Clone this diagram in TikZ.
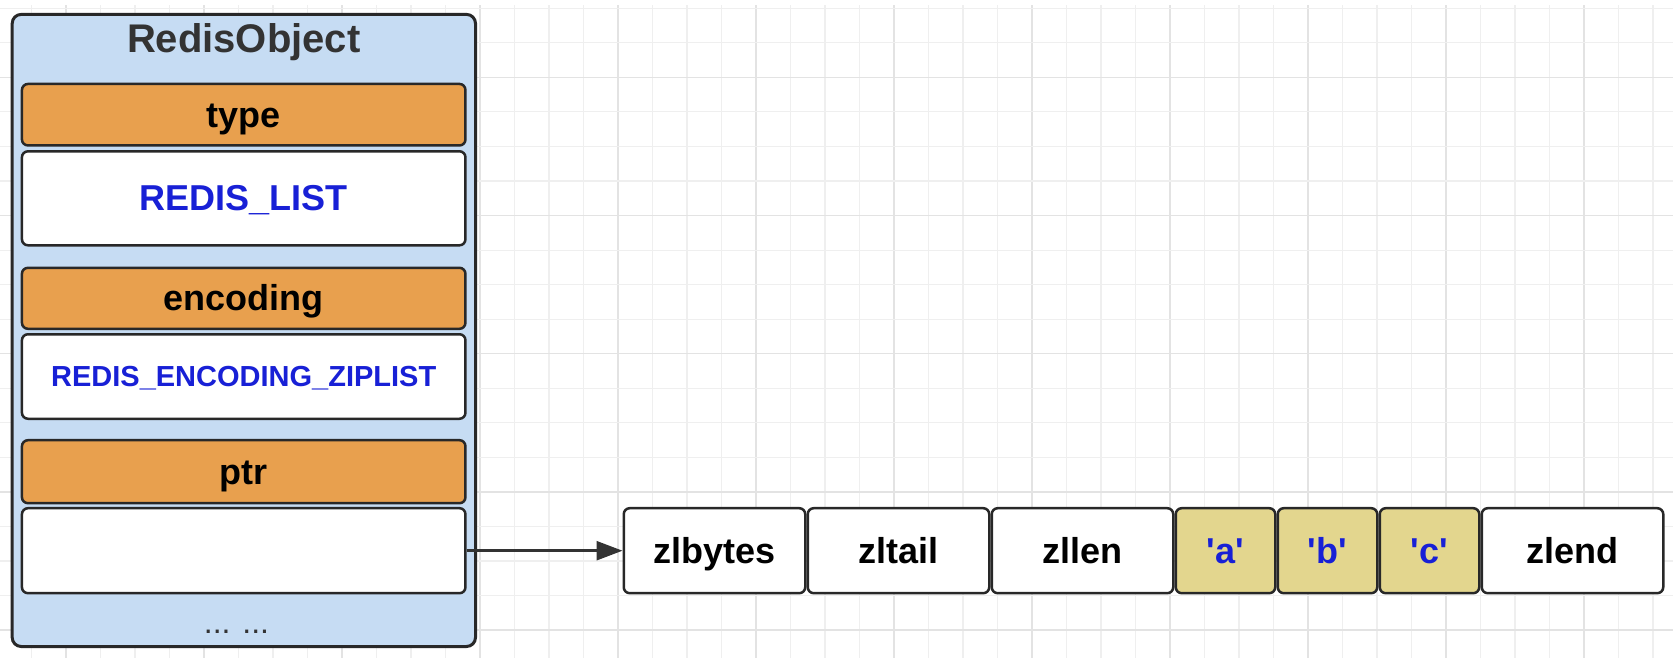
\documentclass[tikz,border=0pt]{standalone}
\usepackage{fontspec}
\setmainfont{Liberation Sans}[Ligatures=TeXOff]
\usepackage{xcolor}
\usetikzlibrary{positioning,arrows.meta}

\definecolor{objblue}{RGB}{198,220,243}
\definecolor{fieldorange}{RGB}{232,160,78}
\definecolor{itemyellow}{RGB}{227,214,142}
\definecolor{valblue}{RGB}{24,32,214}
\definecolor{edgegray}{RGB}{40,40,40}
\definecolor{titlegray}{RGB}{51,51,51}
\definecolor{gridminor}{RGB}{239,239,239}
\definecolor{gridmajor}{RGB}{227,227,227}

\tikzset{
  objbox/.style={draw=edgegray, line width=3pt, rounded corners=9pt, fill=objblue,
    minimum width=463.3pt, minimum height=632.1pt, inner sep=0pt},
  field/.style={draw=edgegray, line width=2.5pt, rounded corners=6pt, fill=fieldorange,
    minimum width=443.5pt, inner sep=0pt, text height=32.6pt, text depth=7.6pt,
    font=\fontsize{36}{40}\selectfont\bfseries},
  value/.style={field, fill=white, text=valblue},
  cell/.style={draw=edgegray, line width=2.5pt, rounded corners=6pt, fill=white,
    minimum height=85pt, inner sep=0pt, text height=32.6pt, text depth=7.6pt,
    font=\fontsize{36}{40}\selectfont\bfseries},
  widecell/.style={cell, minimum width=181.5pt},
  entry/.style={cell, minimum width=99.5pt, fill=itemyellow, text=valblue},
  pointer/.style={draw=titlegray, line width=2.5pt, -{Triangle[length=26pt,width=19pt]}},
}

\begin{document}
\begin{tikzpicture}[x=1pt, y=-1pt]

\useasboundingbox (0,0) rectangle (1680,662);

\def\gx{618}
\def\gy{77.3}

\foreach \k in {-17,...,30} {
  \pgfmathtruncatemacro{\isMajor}{mod(\k+40,4)}
  \pgfmathsetmacro{\xx}{\gx+34.5*\k}
  \ifnum\isMajor=0
    \draw[gridmajor, line width=1.3pt] (\xx, 5) -- (\xx, 658);
  \else
    \draw[gridminor, line width=1.1pt] (\xx, 5) -- (\xx, 658);
  \fi
}
\foreach \k in {-2,...,16} {
  \pgfmathtruncatemacro{\isMajor}{mod(\k+40,4)}
  \pgfmathsetmacro{\yy}{\gy+34.55*\k}
  \ifnum\isMajor=0
    \draw[gridmajor, line width=1.3pt] (0, \yy) -- (1673, \yy);
  \else
    \draw[gridminor, line width=1.1pt] (0, \yy) -- (1673, \yy);
  \fi
}

\node[objbox] (obj) at (243.85, 330.45) {};
\node[text=titlegray, font=\fontsize{40}{44}\selectfont\bfseries, text height=36.2pt, text depth=8.5pt]
  (title) at (243.7, 38.5) {RedisObject};

\node[field, minimum height=61.5pt] (type) at (243.7, 114.7) {type};
\node[value, minimum height=94pt] (typeval) at (243.7, 198.3) {REDIS\_LIST};
\node[field, minimum height=61pt] (enc) at (243.7, 298.3) {encoding};
\node[value, minimum height=84.5pt, font=\fontsize{29}{33}\selectfont\bfseries,
  text height=26.2pt, text depth=6.1pt] (encval) at (243.7, 376.5) {REDIS\_ENCODING\_ZIPLIST};
\node[field, minimum height=63pt] (ptr) at (243.7, 471.7) {ptr};
\node[value, minimum height=85pt] (ptrval) at (243.7, 550.7) {};
\node[text=titlegray, font=\fontsize{32}{36}\selectfont, anchor=base] (more) at (236.5, 633) {... ...};

\node[widecell, anchor=west] (zlbytes) at (622.5, 550.7) {zlbytes};
\node[widecell, right=0pt of zlbytes] (zltail) {zltail};
\node[widecell, right=0pt of zltail] (zllen) {zllen};
\node[entry, right=0pt of zllen] (ea) {'a'};
\node[entry, right=0pt of ea] (eb) {'b'};
\node[entry, right=0pt of eb] (ec) {'c'};
\node[widecell, right=0pt of ec] (zlend) {zlend};

\draw[pointer] (ptrval.east) -- (zlbytes.west);

\end{tikzpicture}
\end{document}
